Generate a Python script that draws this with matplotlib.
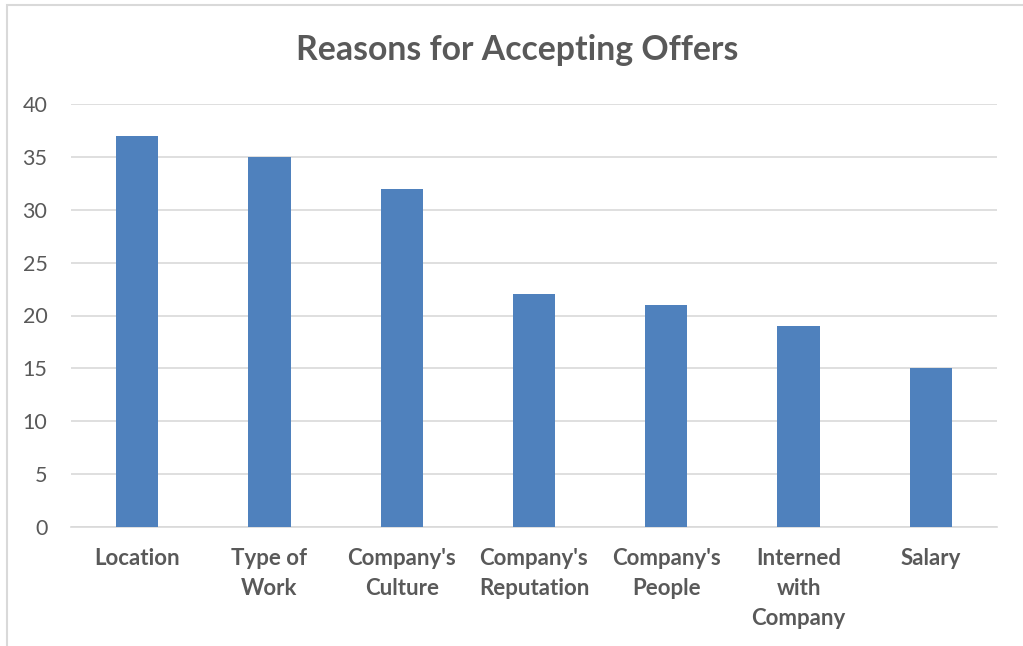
import matplotlib.pyplot as plt
import numpy as np
from matplotlib.patches import Rectangle

# ── Data ────────────────────────────────────────────────────────────────────
categories = ["Location", "Type of\nWork", "Company's\nCulture", "Company's\nReputation",
              "Company's\nPeople", "Interned\nwith\nCompany", "Salary"]
counts = [37, 35, 32, 22, 21, 19, 15]
y_ticks = [0, 5, 10, 15, 20, 25, 30, 35, 40]

BAR_COLOR = "#4F81BD"
TEXT_COLOR = "#595959"
GRID_COLOR = "#D9D9D9"

plt.rcParams['font.family'] = ['Lato', 'DejaVu Sans']

fig = plt.figure(figsize=(10.23, 6.46), dpi=100)
ax = fig.add_axes([71 / 1023, 1 - 527 / 646, (997 - 71) / 1023, (527 - 104) / 646])

x = np.arange(len(categories))
ax.bar(x, counts, width=0.32, color=BAR_COLOR, zorder=3)

ax.set_xlim(-0.5, len(categories) - 0.5)
ax.set_ylim(0, 40)
ax.set_yticks(y_ticks)
ax.set_yticklabels([str(v) for v in y_ticks], fontsize=15.5, color=TEXT_COLOR)
ax.set_xticks(x)
ax.set_xticklabels(categories, fontsize=16, fontweight='bold', color=TEXT_COLOR,
                   linespacing=1.53, va='top')
ax.tick_params(axis='both', length=0)
ax.tick_params(axis='x', pad=15)
ax.tick_params(axis='y', pad=17)

ax.grid(axis='y', color=GRID_COLOR, linewidth=1.2, zorder=0)
for s in ['top', 'right', 'left']:
    ax.spines[s].set_visible(False)
ax.spines['bottom'].set_color(GRID_COLOR)
ax.spines['bottom'].set_linewidth(1.2)

fig.text(517 / 1023, 1 - 50 / 646, "Reasons for Accepting Offers", ha='center', va='center',
         fontsize=24.3, fontweight='bold', color=TEXT_COLOR)

# chart frame
fig.patches.append(Rectangle((7 / 1023, -0.05), 1.1, 1 - 5 / 646 + 0.05,
                             transform=fig.transFigure, fill=False,
                             edgecolor=GRID_COLOR, linewidth=1.5))

plt.savefig('out.png', dpi=100)
